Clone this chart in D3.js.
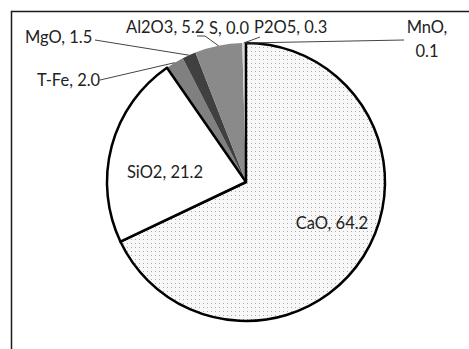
<!DOCTYPE html>
<html><head><meta charset="utf-8">
<script src="https://cdn.jsdelivr.net/npm/d3@7"></script>
<style>body{margin:0;background:#fff}svg{display:block}</style>
</head><body>
<svg id="c" width="469" height="349"></svg>
<script>
const categories = ["CaO","SiO2","T-Fe","MgO","Al2O3","S","P2O5","MnO"];
const values = [64.2, 21.2, 2.0, 1.5, 5.2, 0.0, 0.3, 0.1];
const valueLabels = ["64.2","21.2","2.0","1.5","5.2","0.0","0.3","0.1"];

const fills = {"CaO":"url(#dots)","SiO2":"#ffffff","T-Fe":"#808080","MgO":"#404040","Al2O3":"#8a8a8a","S":"#c8c8c8","P2O5":"#d9d9d9","MnO":"#bfbfbf"};
const bold = new Set(["CaO","SiO2"]);

const svg = d3.select("#c");
const defs = svg.append("defs");
const pat = defs.append("pattern").attr("id","dots").attr("patternUnits","userSpaceOnUse").attr("width",4).attr("height",4);
pat.append("rect").attr("width",4).attr("height",4).attr("fill","#f8f8f8");
pat.append("rect").attr("x",1).attr("y",1).attr("width",1).attr("height",1).attr("fill","#aaaaaa");

svg.append("rect").attr("x",11.5).attr("y",11.5).attr("width",480).attr("height",360)
  .attr("fill","none").attr("stroke","#1a1a1a").attr("stroke-width",1.5);

const cx = 246, cy = 182, R = 139;
const data = categories.map((c,i)=>({cat:c, value:values[i], lab:valueLabels[i]}));
const pie = d3.pie().sort(null).value(d=>d.value).startAngle(0).endAngle(2*Math.PI);
const arcs = pie(data);
const arc = d3.arc().innerRadius(0).outerRadius(R);
const g = svg.append("g").attr("transform",`translate(${cx},${cy})`);

const order = arcs.slice().sort((a,b)=> (bold.has(a.data.cat)?1:0)-(bold.has(b.data.cat)?1:0));
g.selectAll("path").data(order).join("path")
  .attr("d",arc)
  .attr("fill",d=>fills[d.data.cat])
  .attr("stroke",d=>bold.has(d.data.cat)?"#000":"none")
  .attr("stroke-width",2.5)
  .attr("stroke-linejoin","round");

const labelLayout = {
  "CaO":  {x:332, y:229, anchor:"middle"},
  "SiO2": {x:165, y:178, anchor:"middle"},
  "T-Fe": {x:37,  y:86,  anchor:"start", line:[[100,80]]},
  "MgO":  {x:25,  y:43,  anchor:"start", line:[[95,40]]},
  "Al2O3":{x:126, y:33,  anchor:"start", line:[[197,36],[205,36]]},
  "S":    {x:249, y:34,  anchor:"end"},
  "P2O5": {x:254, y:33,  anchor:"start", line:[[260,37]]},
  "MnO":  {x:427, y:33,  anchor:"middle", two:true, line:[[404,40]]}
};
const txt = svg.append("g").attr("font-family","Lato, 'Open Sans', sans-serif").attr("font-size","16.5px").attr("fill","#222");
const lines = svg.append("g").attr("fill","none").attr("stroke","#444").attr("stroke-width",1);
arcs.forEach(a=>{
  const L = labelLayout[a.data.cat];
  if (L.line) {
    const mid = (a.startAngle+a.endAngle)/2;
    const px = cx + R*Math.sin(mid), py = cy - R*Math.cos(mid);
    const pts = L.line.concat([[px,py]]);
    lines.append("path").attr("d", d3.line()(pts));
  }
  if (L.two) {
    const t = txt.append("text").attr("text-anchor",L.anchor);
    t.append("tspan").attr("x",L.x).attr("y",L.y).text(a.data.cat+",");
    t.append("tspan").attr("x",L.x).attr("y",L.y+24).text(a.data.lab);
  } else {
    txt.append("text").attr("x",L.x).attr("y",L.y).attr("text-anchor",L.anchor).text(a.data.cat+", "+a.data.lab);
  }
});
</script>
</body></html>
